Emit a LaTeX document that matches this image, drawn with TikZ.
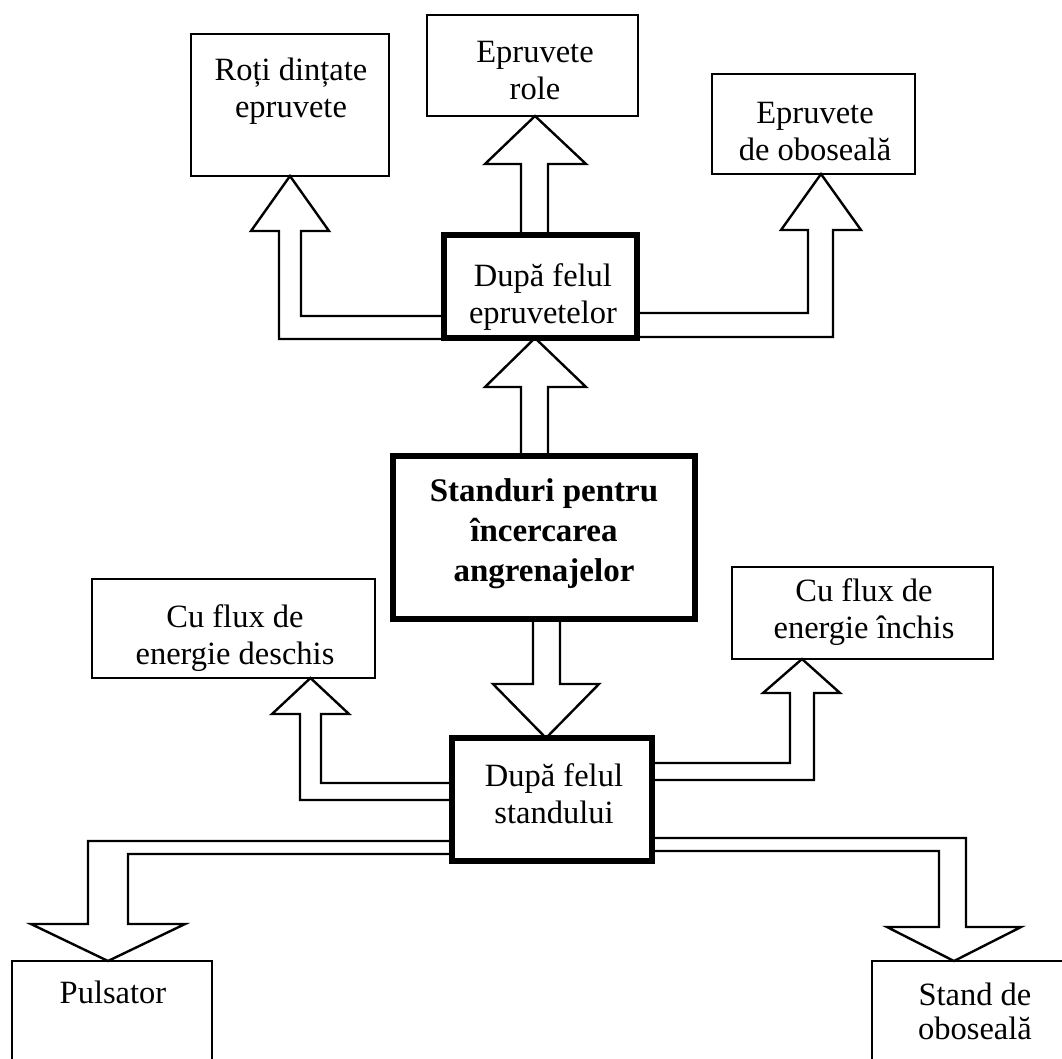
\documentclass[tikz,border=0pt]{standalone}
\usepackage{fontspec}
\setmainfont{Liberation Serif}
\begin{document}
\begin{tikzpicture}[x=1pt,y=-1pt,
  box/.style={draw, line width=2.4pt, inner sep=0pt, outer sep=0pt},
  heavybox/.style={box, line width=5.5pt},
  lbl/.style={inner sep=0pt, align=center, font=\fontsize{32.5}{37}\selectfont},
  boldlbl/.style={inner sep=0pt, align=center, font=\fontsize{33}{40}\selectfont\bfseries},
  flow/.style={draw, line width=2.4pt, line join=miter, miter limit=6}]
\useasboundingbox (0,0) rectangle (1062,1058);
\clip (0,0) rectangle (1062,1058);

% boxes
\node[box, minimum width=198pt, minimum height=142pt] (roti) at (290,105) {};
\node[box, minimum width=211pt, minimum height=101pt] (role) at (532.5,65.5) {};
\node[box, minimum width=203pt, minimum height=100pt] (obos) at (813.5,124) {};
\node[heavybox, minimum width=193pt, minimum height=103pt] (dfe) at (540.5,286.5) {};
\node[heavybox, minimum width=302pt, minimum height=163pt] (std) at (544,537.5) {};
\node[box, minimum width=283pt, minimum height=99pt] (deschis) at (233.5,628.5) {};
\node[box, minimum width=261pt, minimum height=92pt] (inchis) at (862.5,613) {};
\node[heavybox, minimum width=200pt, minimum height=123pt] (dfs) at (552,799.5) {};
\node[box, minimum width=200pt, minimum height=160pt] (puls) at (112,1041) {};
\node[box, minimum width=230pt, minimum height=160pt] (stand) at (987,1041) {};

% labels
\node[lbl] (rotiT) at (291,91) {Roți dințate\\epruvete};
\node[lbl] (roleT) at (535,70.5) {Epruvete\\role};
\node[lbl] (obosT) at (815,132) {Epruvete\\de oboseală};
\node[lbl] (dfeT) at (543,297) {După felul\\epruvetelor};
\node[boldlbl] (stdT) at (544,534) {Standuri pentru\\încercarea\\angrenajelor};
\node[lbl] (deschisT) at (235,638) {Cu flux de\\energie deschis};
\node[lbl] (inchisT) at (864,612) {Cu flux de\\energie închis};
\node[lbl] (dfsT) at (554,794) {După felul\\standului};
\node[lbl] (pulsT) at (113,992) {Pulsator};
\node[lbl, font=\fontsize{32.5}{34}\selectfont] (standT) at (975,1011) {Stand de\\oboseală};

% hollow block arrows
\draw[flow] (521,0 |- std.north) -- (521,387) -- (485,387) -- (535,0 |- dfe.south)
  -- (586,387) -- (548,387) -- (548,0 |- std.north);
\draw[flow] (521,0 |- dfe.north) -- (521,164) -- (485,164) -- (535,0 |- role.south)
  -- (586,164) -- (548,164) -- (548,0 |- dfe.north);
\draw[flow] (dfe.west |- 0,339) -- (279,339) -- (279,231) -- (251,231) -- (290,0 |- roti.south)
  -- (329,231) -- (301,231) -- (301,316) -- (dfe.west |- 0,316);
\draw[flow] (dfe.east |- 0,337) -- (833,337) -- (833,230) -- (861,230) -- (821,0 |- obos.south)
  -- (781,230) -- (808,230) -- (808,313) -- (dfe.east |- 0,313);
\draw[flow] (533,0 |- std.south) -- (533,684) -- (493,684) -- (546,0 |- dfs.north)
  -- (599,684) -- (560,684) -- (560,0 |- std.south);
\draw[flow] (dfs.west |- 0,800) -- (300,800) -- (300,714) -- (272,714) -- (310.5,0 |- deschis.south)
  -- (349,714) -- (321,714) -- (321,783) -- (dfs.west |- 0,783);
\draw[flow] (dfs.east |- 0,780) -- (814,780) -- (814,693) -- (840,693) -- (802,0 |- inchis.south)
  -- (763,693) -- (790,693) -- (790,763) -- (dfs.east |- 0,763);
\draw[flow] (dfs.west |- 0,841) -- (88,841) -- (88,924) -- (31,924) -- (108,0 |- puls.north)
  -- (185,924) -- (128,924) -- (128,854) -- (dfs.west |- 0,854);
\draw[flow] (dfs.east |- 0,838) -- (966,838) -- (966,927) -- (1021,927) -- (954,0 |- stand.north)
  -- (887,927) -- (939,927) -- (939,851) -- (dfs.east |- 0,851);
\end{tikzpicture}
\end{document}
